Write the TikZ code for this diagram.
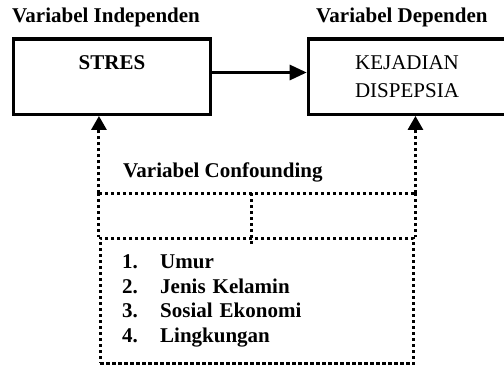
\documentclass[tikz,border=0pt]{standalone}
\usepackage{fontspec}
\setmainfont{Liberation Serif}
\usetikzlibrary{arrows.meta, positioning, calc}
\tikzset{
  varbox/.style={draw, line width=3.2pt, minimum width=197.4pt, minimum height=75.3pt,
    inner sep=0pt, align=center, font=\fontsize{21}{28}\selectfont},
  judul/.style={anchor=base west, inner sep=0pt, font=\bfseries\fontsize{21}{25}\selectfont},
  titik/.style={line width=3pt, dash pattern=on 3.2pt off 2.8pt},
}

\begin{document}
\begin{tikzpicture}[x=1pt, y=-1pt]
  \useasboundingbox (0,0) rectangle (504,366);

  % judul variabel
  \node[judul] (jbebas) at (12,23) {Variabel Independen};
  \node[judul] (jterikat) at (316,23) {Variabel Dependen};

  % kotak variabel
  \node[varbox] (stres) at (112,76.7) {\textbf{STRES}\\\mbox{}};
  \node[varbox] (dispepsia) at (407,76.7) {KEJADIAN\\DISPEPSIA};
  \draw[line width=2.8pt, -{Triangle[length=17pt, width=15pt]}]
    ([yshift=4.2pt]stres.east) -- ([yshift=4.2pt]stres.east -| dispepsia.west);

  % variabel confounding
  \node[judul] (jperancu) at (123,178) {Variabel Confounding};
  \node[draw, titik, minimum width=313.5pt, minimum height=125pt, text width=270pt,
    inner xsep=21.5pt, inner ysep=0pt, align=left, font=\bfseries\fontsize{21}{24.7}\selectfont]
    (faktor) at (257.2,300.8) {%
    \makebox[38pt][l]{1.}Umur\\
    \makebox[38pt][l]{2.}Jenis Kelamin\\
    \makebox[38pt][l]{3.}Sosial Ekonomi\\
    \makebox[38pt][l]{4.}Lingkungan};

  \coordinate (kiri) at (faktor.north west |- 0,193.3);
  \coordinate (kanan) at (faktor.north east |- 0,193.3);
  \coordinate (tengah) at (251.7,193.3);
  \draw[titik] (kiri) -- (kanan);
  \draw[titik] (kiri) -- (faktor.north west);
  \draw[titik] (kanan) -- (faktor.north east);
  \draw[titik] (tengah) -- ([yshift=-10pt]tengah |- faktor.north);
  \draw[titik, -{Triangle[length=14pt, width=15pt]}] (kiri) -- (kiri |- stres.south);
  \draw[titik, -{Triangle[length=14pt, width=15pt]}] (kanan) -- (kanan |- dispepsia.south);
\end{tikzpicture}
\end{document}
